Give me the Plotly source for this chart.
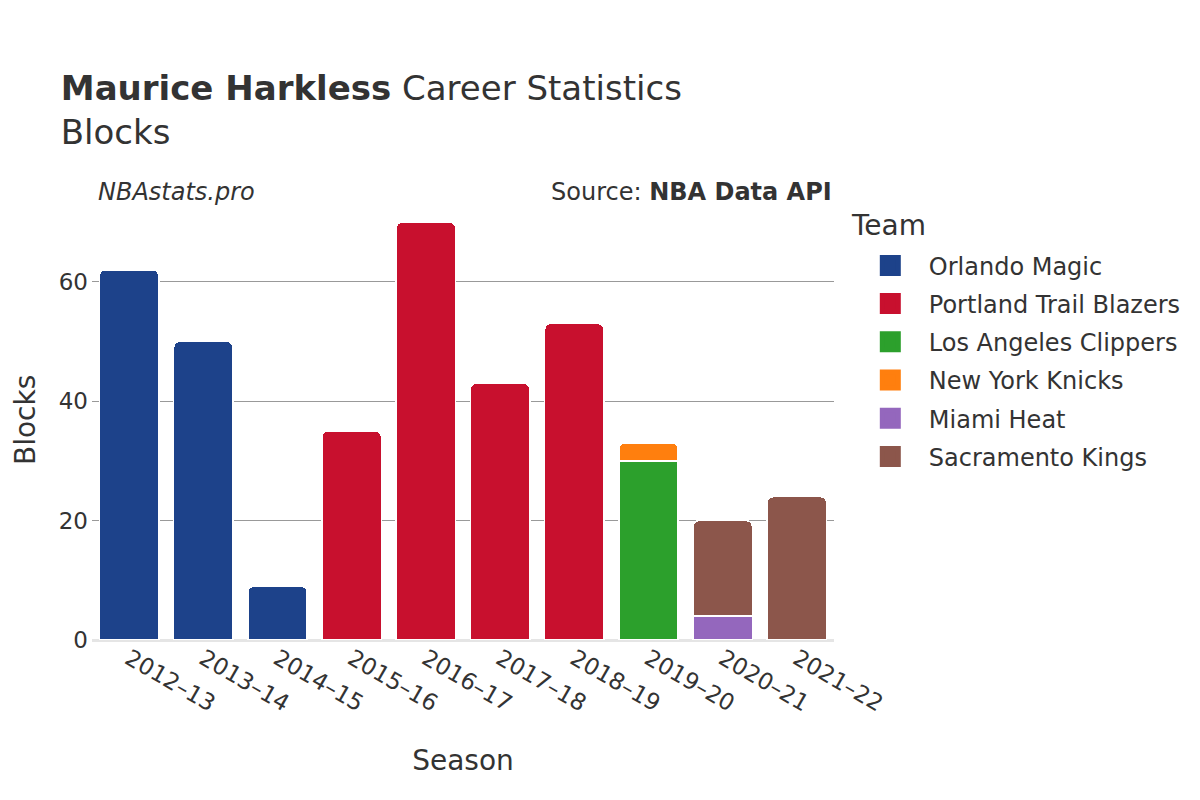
import plotly.graph_objects as go

seasons = ["2012–13", "2013–14", "2014–15", "2015–16", "2016–17",
           "2017–18", "2018–19", "2019–20", "2020–21", "2021–22"]

teams = ["Orlando Magic", "Portland Trail Blazers", "Los Angeles Clippers",
         "New York Knicks", "Miami Heat", "Sacramento Kings"]

# blocks per season for each team (None = did not play for the team)
orlando = [62, 50, 9, None, None, None, None, None, None, None]
portland = [None, None, None, 35, 70, 43, 53, None, None, None]
clippers = [None, None, None, None, None, None, None, 30, None, None]
knicks = [None, None, None, None, None, None, None, 3, None, None]
miami = [None, None, None, None, None, None, None, None, 4, None]
sacramento = [None, None, None, None, None, None, None, None, 16, 24]

colors = ["#1d428a", "#c8102e", "#2ca02c", "#ff7f0e", "#9467bd", "#8c564b"]
values = [orlando, portland, clippers, knicks, miami, sacramento]

fig = go.Figure()
for team, vals, col in zip(teams, values, colors):
    fig.add_trace(go.Bar(
        x=seasons, y=vals, name=team, legendgroup=team, showlegend=False,
        marker=dict(color=col, line=dict(color="white", width=1.5)),
    ))
    # legend-only entry with a bigger square swatch
    fig.add_trace(go.Scatter(
        x=[None], y=[None], mode="markers", name=team, legendgroup=team,
        marker=dict(symbol="square", size=16, color=col,
                    line=dict(color=col, width=6)),
    ))

font = "DejaVu Sans"
fig.update_layout(
    barmode="stack",
    barcornerradius=6,
    bargap=0.2,
    width=1200, height=800,
    margin=dict(l=84, r=374, t=192, b=168),
    paper_bgcolor="white", plot_bgcolor="white",
    font=dict(family=font, color="#333333", size=20),
    title=dict(
        text="<b>Maurice Harkless</b> Career Statistics<br>Blocks",
        x=0.044, xanchor="left", y=0.885, yanchor="top",
        font=dict(size=34, color="#333333"),
    ),
    xaxis=dict(
        title=dict(text="Season", font=dict(size=28), standoff=34),
        tickangle=30, tickfont=dict(size=23),
        showgrid=False, automargin=False,
    ),
    yaxis=dict(
        range=[0, 73.68], tickvals=[0, 20, 40, 60],
        tickfont=dict(size=23),
        ticks="inside", ticklen=6, tickcolor="#999999",
        ticklabelstandoff=3,
        showgrid=True, gridcolor="#999999", gridwidth=1,
        zeroline=True, zerolinecolor="#e5e5e5", zerolinewidth=3,
        automargin=False,
    ),
    legend=dict(
        font=dict(size=24),
        x=1.024, xanchor="left", y=0.9016, yanchor="top",
        traceorder="grouped", tracegroupgap=4, itemwidth=67,
    ),
    annotations=[
        # y axis title, placed by hand
        dict(text="Blocks", xref="paper", yref="paper",
             x=-0.0903, y=0.5, xanchor="center", yanchor="middle",
             textangle=-90, showarrow=False,
             font=dict(size=28, color="#333333")),
        dict(text="Team", xref="paper", yref="paper",
             x=1.020, y=0.941, xanchor="left", yanchor="middle",
             showarrow=False, font=dict(size=28, color="#333333")),
        dict(text="<i>NBAstats.pro</i>", xref="paper", yref="paper",
             x=0.005, y=0.982, xanchor="left", yanchor="bottom",
             showarrow=False, font=dict(size=24, color="#333333")),
        dict(text="Source: <b>NBA Data API</b>", xref="paper", yref="paper",
             x=1.0, y=0.982, xanchor="right", yanchor="bottom",
             showarrow=False, font=dict(size=24, color="#333333")),
    ],
)

fig.write_html("out.html")
